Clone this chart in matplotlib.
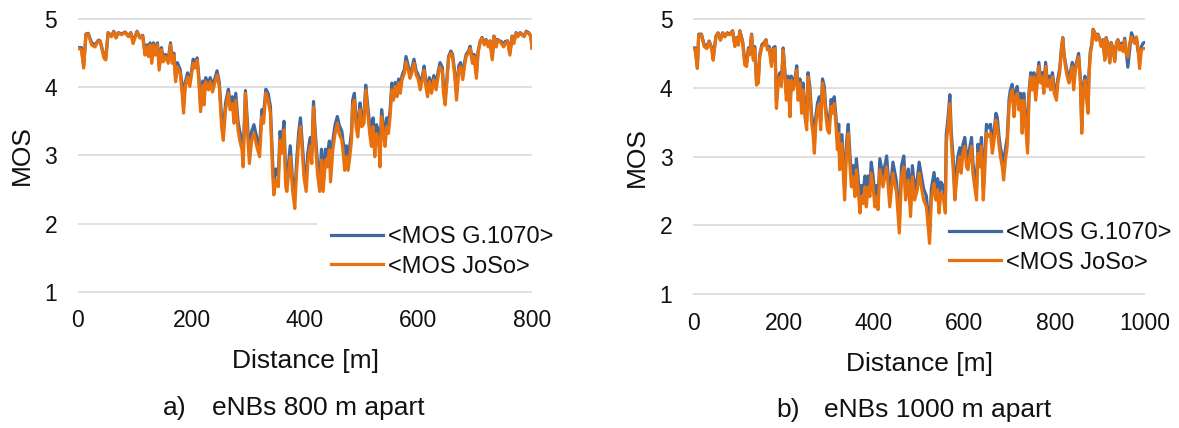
import matplotlib
matplotlib.use("Agg")
import matplotlib.pyplot as plt
from matplotlib.patches import Rectangle

plt.rcParams['font.family'] = ['Liberation Sans', 'DejaVu Sans']

# ---------------- data: a) eNBs 800 m apart ----------------
dist_a = [
    0, 6, 10, 14, 18, 24, 30, 36, 39, 46,
    49, 53, 59, 63, 67, 71, 77, 83, 89, 93,
    97, 104, 109, 114, 118, 121, 124, 127, 130, 133,
    136, 140, 143, 147, 150, 154, 159, 163, 166, 169,
    172, 175, 180, 183, 186, 189, 193, 197, 203, 206,
    210, 213, 216, 220, 222, 225, 230, 233, 237, 241,
    245, 249, 253, 256, 260, 265, 268, 272, 275, 278,
    282, 285, 289, 291, 295, 298, 302, 306, 310, 315,
    320, 324, 327, 331, 335, 339, 343, 345, 349, 353,
    356, 359, 363, 366, 368, 374, 378, 382, 385, 389,
    392, 395, 398, 402, 405, 409, 412, 415, 418, 422,
    426, 429, 432, 436, 439, 443, 445, 449, 453, 457,
    460, 465, 468, 470, 473, 476, 479, 482, 484, 487,
    490, 493, 497, 500, 504, 507, 510, 514, 517, 520,
    523, 526, 530, 532, 535, 538, 541, 544, 547, 550,
    553, 556, 559, 562, 565, 568, 571, 575, 578, 582,
    585, 588, 592, 596, 599, 603, 607, 610, 613, 616,
    619, 623, 627, 631, 635, 638, 642, 644, 647, 650,
    653, 657, 660, 664, 667, 671, 674, 678, 681, 684,
    688, 691, 695, 698, 702, 705, 709, 712, 716, 719,
    723, 726, 730, 733, 737, 739, 743, 746, 750, 753,
    757, 761, 765, 768, 772, 775, 779, 782, 786, 790,
    794, 798, 800,
]
joso_a = [
    4.57, 4.55, 4.28, 4.77, 4.78, 4.62, 4.59, 4.68, 4.67, 4.42,
    4.40, 4.79, 4.74, 4.81, 4.72, 4.79, 4.77, 4.80, 4.74, 4.79,
    4.64, 4.81, 4.72, 4.75, 4.47, 4.59, 4.45, 4.62, 4.35, 4.62,
    4.47, 4.62, 4.25, 4.55, 4.37, 4.45, 4.35, 4.62, 4.35, 4.47,
    4.08, 4.30, 4.20, 3.96, 3.62, 4.01, 4.15, 4.01, 4.35, 4.28,
    4.40, 4.08, 3.64, 4.03, 3.74, 4.08, 3.96, 4.08, 3.93, 4.06,
    4.18, 4.01, 3.42, 3.22, 3.67, 3.91, 3.67, 3.76, 3.47, 3.81,
    3.37, 3.22, 3.08, 2.83, 3.91, 3.42, 2.88, 3.22, 3.32, 3.13,
    2.98, 3.57, 3.47, 3.91, 3.81, 3.62, 2.74, 2.42, 2.64, 2.54,
    3.22, 3.03, 3.37, 2.54, 2.47, 2.98, 2.49, 2.22, 2.73, 3.22,
    3.42, 3.08, 2.69, 2.47, 2.88, 3.13, 2.88, 3.71, 3.22, 2.73,
    2.47, 2.93, 2.47, 2.93, 2.83, 3.08, 2.61, 3.08, 3.32, 3.47,
    3.32, 3.22, 2.98, 2.78, 2.98, 2.78, 2.98, 3.22, 3.71, 3.81,
    3.42, 3.27, 3.67, 3.42, 3.47, 3.96, 3.67, 3.32, 3.13, 3.42,
    2.98, 3.32, 3.22, 2.83, 3.57, 3.32, 3.13, 3.42, 3.32, 3.57,
    3.96, 3.81, 4.01, 3.86, 4.06, 3.91, 4.11, 4.20, 4.37, 4.25,
    4.13, 4.20, 4.35, 4.18, 4.13, 3.96, 4.11, 4.25, 4.01, 3.86,
    4.08, 3.91, 4.11, 3.96, 4.18, 4.30, 4.23, 3.91, 3.74, 4.06,
    4.42, 4.50, 4.45, 4.15, 3.81, 4.25, 4.30, 4.11, 4.30, 4.45,
    4.50, 4.57, 4.35, 4.45, 4.13, 4.50, 4.67, 4.72, 4.62, 4.69,
    4.59, 4.67, 4.40, 4.74, 4.59, 4.69, 4.67, 4.64, 4.59, 4.64,
    4.67, 4.47, 4.74, 4.64, 4.79, 4.74, 4.79, 4.77, 4.74, 4.81,
    4.79, 4.74, 4.57,
]
g1070_a = [
    4.58, 4.58, 4.31, 4.78, 4.79, 4.65, 4.62, 4.69, 4.68, 4.45,
    4.43, 4.80, 4.75, 4.82, 4.73, 4.80, 4.78, 4.81, 4.75, 4.80,
    4.67, 4.82, 4.73, 4.76, 4.50, 4.62, 4.48, 4.65, 4.41, 4.65,
    4.50, 4.65, 4.31, 4.58, 4.43, 4.48, 4.41, 4.65, 4.41, 4.50,
    4.14, 4.36, 4.26, 4.06, 3.72, 4.07, 4.21, 4.07, 4.41, 4.34,
    4.43, 4.14, 3.74, 4.09, 3.84, 4.14, 4.06, 4.14, 4.03, 4.12,
    4.24, 4.07, 3.55, 3.35, 3.77, 3.97, 3.77, 3.86, 3.60, 3.91,
    3.50, 3.35, 3.21, 2.99, 3.95, 3.55, 3.04, 3.35, 3.45, 3.26,
    3.14, 3.67, 3.60, 3.97, 3.91, 3.72, 2.90, 2.58, 2.80, 2.70,
    3.35, 3.16, 3.50, 2.70, 2.63, 3.14, 2.65, 2.38, 2.89, 3.35,
    3.55, 3.21, 2.85, 2.63, 3.04, 3.26, 3.04, 3.79, 3.35, 2.89,
    2.63, 3.09, 2.63, 3.09, 2.99, 3.21, 2.77, 3.21, 3.45, 3.57,
    3.45, 3.35, 3.14, 2.94, 3.14, 2.94, 3.14, 3.35, 3.81, 3.91,
    3.55, 3.40, 3.77, 3.55, 3.60, 4.03, 3.77, 3.45, 3.26, 3.55,
    3.14, 3.45, 3.35, 2.99, 3.67, 3.45, 3.26, 3.55, 3.45, 3.67,
    4.06, 3.91, 4.07, 3.96, 4.12, 4.01, 4.17, 4.26, 4.45, 4.31,
    4.19, 4.26, 4.41, 4.24, 4.19, 4.06, 4.17, 4.31, 4.07, 3.96,
    4.14, 4.01, 4.17, 4.06, 4.24, 4.36, 4.29, 4.01, 3.84, 4.12,
    4.45, 4.53, 4.48, 4.21, 3.91, 4.31, 4.36, 4.17, 4.36, 4.48,
    4.53, 4.60, 4.41, 4.48, 4.19, 4.53, 4.68, 4.73, 4.65, 4.70,
    4.62, 4.68, 4.43, 4.75, 4.62, 4.70, 4.68, 4.67, 4.62, 4.67,
    4.68, 4.50, 4.75, 4.67, 4.80, 4.75, 4.80, 4.78, 4.75, 4.82,
    4.80, 4.75, 4.58,
]

# ---------------- data: b) eNBs 1000 m apart ----------------
dist_b = [
    0, 4, 9, 12, 18, 24, 30, 35, 41, 44,
    50, 55, 60, 65, 70, 75, 81, 87, 92, 96,
    100, 103, 109, 114, 118, 122, 125, 129, 133, 136,
    140, 144, 147, 152, 156, 161, 164, 168, 173, 177,
    181, 184, 188, 192, 195, 199, 203, 206, 210, 214,
    217, 221, 225, 229, 232, 236, 240, 243, 247, 251,
    254, 258, 262, 265, 268, 271, 275, 279, 282, 286,
    290, 293, 297, 301, 305, 308, 312, 316, 319, 322,
    324, 329, 332, 335, 339, 343, 347, 350, 354, 358,
    361, 365, 369, 372, 376, 380, 383, 387, 391, 394,
    398, 402, 406, 409, 413, 420, 428, 435, 442, 450,
    456, 461, 466, 470, 476, 481, 485, 490, 496, 500,
    505, 510, 516, 520, 523, 527, 533, 537, 541, 544,
    548, 553, 558, 560, 564, 568, 571, 575, 579, 583,
    586, 590, 593, 597, 601, 605, 608, 612, 616, 619,
    623, 627, 630, 634, 638, 642, 645, 649, 653, 658,
    662, 666, 670, 673, 677, 680, 684, 687, 691, 695,
    699, 702, 706, 710, 714, 717, 721, 725, 728, 732,
    736, 740, 743, 747, 751, 754, 758, 762, 765, 769,
    773, 776, 780, 784, 788, 791, 795, 799, 804, 807,
    811, 815, 818, 821, 825, 828, 832, 836, 839, 842,
    846, 850, 853, 857, 860, 863, 867, 870, 874, 876,
    879, 882, 885, 889, 892, 896, 900, 903, 907, 911,
    914, 918, 922, 925, 929, 933, 937, 940, 944, 948,
    951, 955, 958, 962, 966, 970, 973, 977, 981, 984,
    988, 992, 996, 1000,
]
joso_b = [
    4.57, 4.56, 4.28, 4.77, 4.77, 4.60, 4.57, 4.67, 4.55, 4.40,
    4.74, 4.79, 4.69, 4.79, 4.74, 4.79, 4.77, 4.82, 4.60, 4.72,
    4.62, 4.82, 4.67, 4.33, 4.31, 4.55, 4.48, 4.77, 4.40, 4.57,
    4.04, 4.07, 4.45, 4.60, 4.62, 4.69, 4.55, 4.57, 4.31, 4.55,
    4.57, 3.70, 4.07, 4.16, 4.02, 4.55, 4.16, 3.82, 4.11, 3.58,
    4.11, 3.97, 4.07, 4.26, 3.82, 4.07, 3.63, 3.97, 3.58, 3.39,
    4.16, 3.92, 3.48, 3.34, 3.05, 3.44, 3.68, 3.77, 3.39, 4.07,
    3.92, 3.63, 3.39, 3.34, 3.73, 3.63, 3.77, 3.44, 3.10, 3.34,
    2.81, 3.19, 2.76, 2.37, 3.05, 3.34, 2.85, 2.56, 2.71, 2.42,
    2.81, 2.52, 2.18, 2.42, 2.32, 2.56, 2.27, 2.56, 2.42, 2.76,
    2.56, 2.27, 2.42, 2.23, 2.81, 2.56, 2.85, 2.27, 2.76, 2.47,
    1.89, 2.71, 2.85, 2.37, 2.66, 2.13, 2.71, 2.37, 2.52, 2.76,
    2.56, 2.37, 2.27, 1.98, 1.74, 2.37, 2.61, 2.37, 2.52, 2.18,
    2.47, 2.42, 2.18, 3.19, 3.44, 3.77, 3.24, 2.85, 2.37, 2.66,
    2.85, 3.00, 2.76, 3.05, 3.15, 2.85, 2.81, 3.00, 3.15, 2.76,
    2.56, 2.37, 3.05, 2.85, 3.15, 2.37, 2.76, 3.34, 3.29, 3.34,
    3.05, 3.24, 3.53, 3.44, 3.15, 3.00, 2.85, 2.66, 2.95, 3.15,
    3.73, 3.87, 3.97, 3.58, 3.87, 3.92, 3.68, 3.82, 3.34, 3.82,
    3.44, 3.05, 3.82, 4.16, 3.97, 4.16, 3.82, 4.11, 4.31, 4.07,
    4.16, 3.92, 4.31, 4.02, 4.11, 3.97, 4.16, 3.92, 3.82, 4.07,
    4.21, 4.55, 4.72, 4.45, 4.26, 4.16, 4.07, 4.21, 4.31, 3.97,
    4.26, 4.38, 4.45, 4.07, 3.34, 3.92, 4.11, 3.87, 3.63, 4.16,
    4.50, 4.60, 4.84, 4.79, 4.69, 4.77, 4.69, 4.60, 4.69, 4.40,
    4.72, 4.60, 4.36, 4.65, 4.55, 4.38, 4.65, 4.69, 4.55, 4.62,
    4.53, 4.69, 4.50, 4.45, 4.65, 4.74, 4.69, 4.65, 4.74, 4.60,
    4.28, 4.55, 4.57, 4.57,
]
g1070_b = [
    4.58, 4.58, 4.31, 4.78, 4.78, 4.63, 4.60, 4.68, 4.58, 4.43,
    4.75, 4.80, 4.70, 4.80, 4.75, 4.80, 4.78, 4.83, 4.63, 4.73,
    4.65, 4.83, 4.68, 4.39, 4.37, 4.58, 4.51, 4.78, 4.43, 4.60,
    4.10, 4.13, 4.48, 4.63, 4.65, 4.70, 4.58, 4.60, 4.37, 4.58,
    4.60, 3.80, 4.13, 4.22, 4.08, 4.58, 4.22, 3.92, 4.17, 3.68,
    4.17, 4.07, 4.13, 4.32, 3.92, 4.13, 3.73, 4.07, 3.68, 3.52,
    4.22, 4.02, 3.61, 3.47, 3.18, 3.57, 3.78, 3.87, 3.52, 4.13,
    4.02, 3.73, 3.52, 3.47, 3.83, 3.73, 3.87, 3.57, 3.23, 3.47,
    2.97, 3.32, 2.92, 2.53, 3.18, 3.47, 3.01, 2.72, 2.87, 2.58,
    2.97, 2.68, 2.34, 2.58, 2.48, 2.72, 2.43, 2.72, 2.58, 2.92,
    2.72, 2.43, 2.58, 2.39, 2.97, 2.72, 3.01, 2.43, 2.92, 2.63,
    2.05, 2.87, 3.01, 2.53, 2.82, 2.29, 2.87, 2.53, 2.68, 2.92,
    2.72, 2.53, 2.43, 2.14, 1.90, 2.53, 2.77, 2.53, 2.68, 2.34,
    2.63, 2.58, 2.34, 3.32, 3.57, 3.90, 3.37, 3.01, 2.53, 2.82,
    3.01, 3.13, 2.92, 3.18, 3.28, 3.01, 2.97, 3.13, 3.28, 2.92,
    2.72, 2.53, 3.18, 3.01, 3.28, 2.53, 2.92, 3.47, 3.42, 3.47,
    3.18, 3.37, 3.63, 3.57, 3.28, 3.13, 3.01, 2.82, 3.11, 3.28,
    3.83, 3.97, 4.05, 3.68, 3.97, 4.02, 3.78, 3.92, 3.47, 3.92,
    3.57, 3.18, 3.92, 4.22, 4.07, 4.22, 3.92, 4.17, 4.37, 4.13,
    4.22, 4.02, 4.37, 4.08, 4.17, 4.07, 4.22, 4.02, 3.92, 4.13,
    4.27, 4.58, 4.73, 4.48, 4.32, 4.22, 4.13, 4.27, 4.37, 4.07,
    4.32, 4.41, 4.50, 4.13, 3.44, 4.02, 4.17, 3.97, 3.73, 4.22,
    4.53, 4.63, 4.85, 4.80, 4.70, 4.78, 4.70, 4.63, 4.70, 4.43,
    4.73, 4.63, 4.39, 4.66, 4.58, 4.41, 4.66, 4.70, 4.58, 4.65,
    4.56, 4.72, 4.55, 4.30, 4.55, 4.80, 4.75, 4.65, 4.72, 4.55,
    4.45, 4.60, 4.65, 4.66,
]

series_labels = ['<MOS G.1070>', '<MOS JoSo>']
x_label = 'Distance [m]'
y_label = 'MOS'
y_ticks = [1, 2, 3, 4, 5]
xticks_a = [0, 200, 400, 600, 800]
xticks_b = [0, 200, 400, 600, 800, 1000]
captions = [('a)', 'eNBs 800 m apart'), ('b)', 'eNBs 1000 m apart')]

# ---------------- styling ----------------
BLUE = '#41679F'
ORANGE = '#E8710E'
GRID = '#D9D9D9'
TXT = '#111111'
W, H = 1179, 428

fig = plt.figure(figsize=(W / 100, H / 100), dpi=100)

panels = [
    dict(rect=[78 / W, 0.31528, 454 / W, 0.64355], x=dist_a, g=g1070_a, j=joso_a,
         xt=xticks_a, xmax=800, leg=(0.557, 0.2435), patch_x0=0.5264,
         ylab_x=(22 - 78) / 454, xlab_y=-0.2467,
         cap=captions[0], cap_px=(163, 212, 415)),
    dict(rect=[693.3 / W, 0.30916, 451.7 / W, 0.64967], x=dist_b, g=g1070_b, j=joso_b,
         xt=xticks_b, xmax=1000, leg=(0.566, 0.265), patch_x0=0.5307,
         ylab_x=(637 - 693.3) / 451.7, xlab_y=-0.2443,
         cap=captions[1], cap_px=(776, 824, 417.5)),
]

for p in panels:
    ax = fig.add_axes(p['rect'])
    ax.plot(p['x'], p['g'], color=BLUE, lw=2.3, label=series_labels[0], zorder=2,
            solid_joinstyle='round')
    ax.plot(p['x'], p['j'], color=ORANGE, lw=2.3, label=series_labels[1], zorder=3,
            solid_joinstyle='round')
    ax.set_xlim(0, p['xmax'])
    ax.set_ylim(0.98, 5.02)
    ax.set_xticks(p['xt'])
    ax.set_yticks(y_ticks)
    for s in ax.spines.values():
        s.set_visible(False)
    ax.set_axisbelow(True)
    ax.yaxis.grid(True, color=GRID, lw=1.2)
    ax.xaxis.grid(False)
    ax.tick_params(axis='both', length=0, labelsize=16.5, labelcolor=TXT)
    ax.tick_params(axis='x', pad=11.5)
    ax.tick_params(axis='y', pad=15)

    ax.set_ylabel(y_label, fontsize=19, color=TXT)
    ax.yaxis.set_label_coords(p['ylab_x'], 0.5)
    ax.yaxis.label.set_va('center')
    ax.set_xlabel(x_label, fontsize=19, color=TXT)
    ax.xaxis.set_label_coords(0.5, p['xlab_y'])
    ax.xaxis.label.set_va('center')

    # legend box hides the y=2 gridline behind it
    ax.add_patch(Rectangle((p['patch_x0'], 1.9), 1 - p['patch_x0'], 0.2,
                           transform=ax.get_yaxis_transform(), facecolor='white',
                           edgecolor='none', zorder=1))
    leg = ax.legend(loc='upper left', bbox_to_anchor=p['leg'], frameon=False,
                    fontsize=17, handlelength=2.2, handletextpad=0.22,
                    labelspacing=0.32, borderpad=0, borderaxespad=0)
    for t in leg.get_texts():
        t.set_color(TXT)

    lab, txt = p['cap']
    cx1, cx2, cy = p['cap_px']
    fig.text(cx1 / W, (H - cy) / H, lab, fontsize=19, color=TXT, ha='left', va='baseline')
    fig.text(cx2 / W, (H - cy) / H, txt, fontsize=19, color=TXT, ha='left', va='baseline')

fig.savefig('out.png', dpi=100, facecolor='white')
